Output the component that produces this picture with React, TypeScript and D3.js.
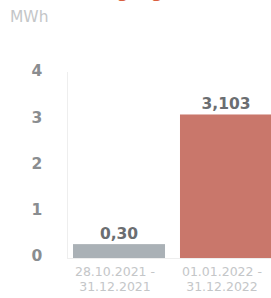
import React from "react";
import * as d3 from "d3";

const categories = ["28.10.2021 -|31.12.2021", "01.01.2022 -|31.12.2022"];
const values = [0.3, 3.103];
const valueLabels = ["0,30", "3,103"];
const barColors = ["#aab1b6", "#c9776b"];
const yTicks = [0, 1, 2, 3, 4];
const unitLabel = "MWh";
const titleText = "Stromerzeugung";

export default function App() {
  const W = 271;
  const H = 298;
  const x = d3.scaleBand<string>().domain(categories).range([73, 272]).paddingInner(0.14).paddingOuter(0);
  const y = d3.scaleLinear().domain([0, 4]).range([258, 73]);
  const font = "'DejaVu Sans', sans-serif";
  return (
    <div style={{ position: "fixed", left: 0, top: 0 }}>
      <svg width={W} height={H} style={{ display: "block", background: "#fff" }}>
        <text x={12} y={-2} fill="#d9603f" fontFamily={font} fontSize={16} fontWeight="bold">{titleText}</text>
        <text x={10} y={22} fill="#c4c6c8" fontFamily={font} fontSize={15.5}>{unitLabel}</text>
        <line x1={67.5} x2={67.5} y1={72} y2={y(0)} stroke="#eeeeee" strokeWidth={1} />
        <line x1={67} x2={W} y1={y(0) + 0.5} y2={y(0) + 0.5} stroke="#eeeeee" strokeWidth={1} />
        {yTicks.map((t) => (
          <text key={t} x={37} y={y(t) - 2} dy="0.35em" textAnchor="middle" fill="#8a8d90" fontFamily={font} fontSize={15.5} fontWeight="bold">{t}</text>
        ))}
        {categories.map((c, i) => {
          const bx = x(c)!;
          const bw = x.bandwidth();
          const cx = bx + bw / 2;
          const [l1, l2] = c.split("|");
          return (
            <g key={c}>
              <rect x={bx} y={y(values[i])} width={bw} height={y(0) - y(values[i])} fill={barColors[i]} />
              <text x={cx} y={y(values[i]) - 11} dy="0.35em" textAnchor="middle" fill="#6b6e71" fontFamily={font} fontSize={15.5} fontWeight="bold">{valueLabels[i]}</text>
              <text x={cx - 4} y={272} dy="0.35em" textAnchor="middle" fill="#c4c6c8" fontFamily={font} fontSize={12.5}>{l1}</text>
              <text x={cx - 4} y={287} dy="0.35em" textAnchor="middle" fill="#c4c6c8" fontFamily={font} fontSize={12.5}>{l2}</text>
            </g>
          );
        })}
      </svg>
    </div>
  );
}
